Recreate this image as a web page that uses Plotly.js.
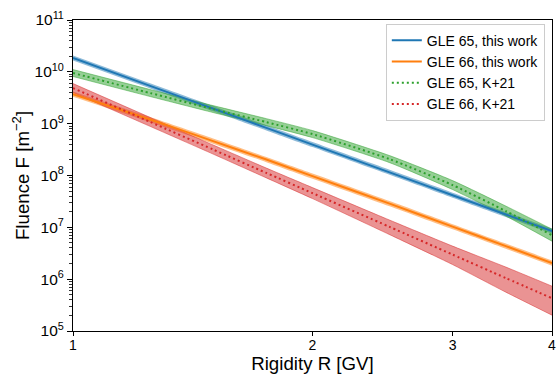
<!DOCTYPE html>
<html>
<head>
<meta charset="utf-8">
<script src="https://cdn.plot.ly/plotly-3.0.1.min.js"></script>
<style>html,body{margin:0;padding:0;background:#fff;}#chart{width:559px;height:376px;}</style>
</head>
<body>
<div id="chart"></div>
<script>
// Rigidity grid (GV)
const rigidity = [1, 1.25, 1.5, 1.75, 2, 2.5, 3, 3.5, 4];

// GLE 65, this work (blue)
const gle65Work     = [1.85e10, 5.36e9, 1.95e9, 8.3e8, 3.95e8, 1.15e8, 4.17e7, 1.77e7, 8.45e6];
const gle65WorkHigh = [2.07e10, 6.0e9, 2.18e9, 9.3e8, 4.42e8, 1.29e8, 4.67e7, 1.98e7, 9.46e6];
const gle65WorkLow  = [1.65e10, 4.79e9, 1.74e9, 7.41e8, 3.53e8, 1.03e8, 3.72e7, 1.58e7, 7.54e6];

// GLE 66, this work (orange)
const gle66Work     = [3.72e9, 1.20e9, 4.61e8, 2.03e8, 9.73e7, 2.87e7, 1.03e7, 4.34e6, 2.04e6];
const gle66WorkHigh = [4.17e9, 1.34e9, 5.16e8, 2.27e8, 1.09e8, 3.21e7, 1.15e7, 4.86e6, 2.28e6];
const gle66WorkLow  = [3.32e9, 1.07e9, 4.12e8, 1.81e8, 8.69e7, 2.56e7, 9.2e6, 3.88e6, 1.82e6];

// GLE 65, K+21 (green)
const gle65K21     = [9.48e9, 3.90e9, 1.91e9, 1.07e9, 6.30e8, 2.07e8, 6.53e7, 2.06e7, 7.06e6];
const gle65K21High = [1.107e10, 4.56e9, 2.23e9, 1.25e9, 7.36e8, 2.42e8, 7.97e7, 2.57e7, 9.22e6];
const gle65K21Low  = [8.12e9, 3.34e9, 1.64e9, 9.16e8, 5.39e8, 1.77e8, 5.35e7, 1.65e7, 5.41e6];

// GLE 66, K+21 (red)
const gle66K21     = [4.86e9, 1.08e9, 3.17e8, 1.12e8, 4.57e7, 1.02e7, 2.98e6, 1.05e6, 4.29e5];
const gle66K21High = [5.94e9, 1.32e9, 3.88e8, 1.39e8, 5.84e7, 1.38e7, 4.34e6, 1.71e6, 7.33e5];
const gle66K21Low  = [3.98e9, 8.87e8, 2.59e8, 8.99e7, 3.58e7, 7.23e6, 1.91e6, 5.61e5, 2.02e5];

// Axis tick labels
const xTickVals = [1, 2, 3, 4];
const xTickText = ['1', '2', '3', '4'];
const yExponents = [5, 6, 7, 8, 9, 10, 11];

const seriesNames = ['GLE 65, this work', 'GLE 66, this work', 'GLE 65, K+21', 'GLE 66, K+21'];

const FONT = 'Liberation Sans, Arial, Helvetica, sans-serif';

function band(low, high, rgb, edgeAlpha, edgeWidth) {
  return [
    {x: rigidity, y: low, type: 'scatter', mode: 'lines', showlegend: false, hoverinfo: 'skip',
     line: {color: 'rgba(' + rgb + ',' + edgeAlpha + ')', width: edgeWidth, shape: 'spline', smoothing: 0.6}},
    {x: rigidity, y: high, type: 'scatter', mode: 'lines', showlegend: false, hoverinfo: 'skip',
     fill: 'tonexty', fillcolor: 'rgba(' + rgb + ',0.5)',
     line: {color: 'rgba(' + rgb + ',' + edgeAlpha + ')', width: edgeWidth, shape: 'spline', smoothing: 0.6}}
  ];
}

function centre(y, name, color, dash) {
  return {x: rigidity, y: y, type: 'scatter', mode: 'lines', name: name,
          line: {color: color, width: 2, dash: dash || 'solid', shape: 'spline', smoothing: 0.6}};
}

const blueRGB = '31,119,180', orangeRGB = '255,127,14', greenRGB = '44,160,44', redRGB = '214,39,40';

const bandTraces = [].concat(
  band(gle65WorkLow, gle65WorkHigh, blueRGB, 0.0, 0),
  band(gle66WorkLow, gle66WorkHigh, orangeRGB, 0.0, 0),
  band(gle65K21Low, gle65K21High, greenRGB, 0.6, 0.8),
  band(gle66K21Low, gle66K21High, redRGB, 0.6, 0.8)
);

const lineTraces = [
  centre(gle65Work, seriesNames[0], '#1f77b4'),
  centre(gle66Work, seriesNames[1], '#ff7f0e'),
  centre(gle65K21, seriesNames[2], '#2ca02c', '2px,3px'),
  centre(gle66K21, seriesNames[3], '#d62728', '2px,3px')
];

// minor tick positions on the log y axis
const yMinor = [];
for (let e = 5; e < 11; e++) for (let m = 2; m <= 9; m++) yMinor.push(m * Math.pow(10, e));

const layout = {
  width: 559, height: 376,
  margin: {l: 73, r: 7, t: 20, b: 45, pad: 0},
  paper_bgcolor: '#ffffff', plot_bgcolor: '#ffffff',
  font: {family: FONT, size: 14, color: '#000'},
  showlegend: true,
  legend: {
    x: 0.985, y: 0.988, xanchor: 'right', yanchor: 'top',
    traceorder: 'normal',
    bgcolor: 'rgba(255,255,255,0.8)', bordercolor: '#cccccc', borderwidth: 1,
    font: {family: FONT, size: 14, color: '#000'},
    tracegroupgap: 0, itemwidth: 30
  },
  xaxis: {
    type: 'log', range: [0, Math.log10(4)], autorange: false,
    tickmode: 'array', tickvals: xTickVals, ticktext: xTickText,
    ticks: 'outside', ticklen: 4, tickwidth: 1, tickcolor: '#000',
    ticklabelstandoff: -3,
    showline: true, mirror: true, linecolor: '#000', linewidth: 1,
    showgrid: false, zeroline: false,
    tickfont: {family: FONT, size: 14, color: '#000'},
    title: {text: 'Rigidity R [GV]', font: {family: FONT, size: 18.7, color: '#000'}, standoff: 0}
  },
  yaxis: {
    type: 'log', range: [5, 11], autorange: false,
    tickmode: 'array', tickvals: yExponents.map(e => Math.pow(10, e)),
    ticktext: yExponents.map(e => '10<sup>' + e + '</sup>'),
    ticks: 'outside', ticklen: 5, tickwidth: 1, tickcolor: '#000',
    minor: {tickmode: 'array', tickvals: yMinor, ticks: 'outside', ticklen: 3, tickwidth: 0.8, tickcolor: '#000', showgrid: false},
    showline: true, mirror: true, linecolor: '#000', linewidth: 1,
    showgrid: false, zeroline: false,
    tickfont: {family: FONT, size: 15.5, color: '#000'},
    title: {text: 'Fluence F [m<sup>−2</sup>]', font: {family: FONT, size: 18.7, color: '#000'}, standoff: 0}
  }
};

Plotly.newPlot('chart', bandTraces.concat(lineTraces), layout, {displayModeBar: false, staticPlot: true});
</script>
</body>
</html>
